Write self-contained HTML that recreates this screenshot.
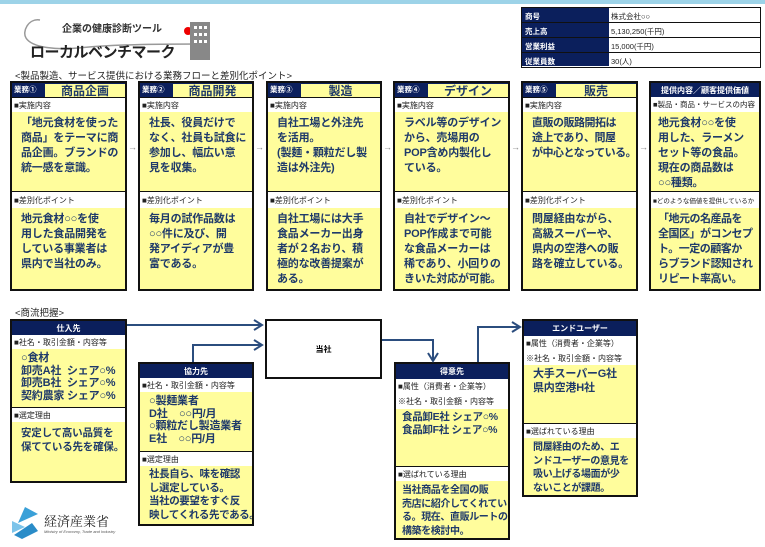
<!DOCTYPE html>
<html><head><meta charset="utf-8">
<style>
*{margin:0;padding:0;box-sizing:border-box}
body{width:765px;height:547px;background:#fff;position:relative;overflow:hidden;font-family:"Liberation Sans","Noto Sans CJK JP",sans-serif;color:#000}
.a{position:absolute}
.card{position:absolute;border:2px solid #111;background:#fffd9c;overflow:hidden}
.hd{position:absolute;left:0;right:0;top:0;background:#0b1f5c;color:#fff;font-size:8px;font-weight:bold;display:flex;align-items:center;justify-content:center;white-space:nowrap}
.lb{position:absolute;left:0;right:0;background:#fff;font-size:8px;color:#222;padding-left:2px;display:flex;align-items:center;border-top:1.5px solid #111;white-space:nowrap;overflow:hidden}
.lb.nb{border-top:none}
.tx{position:absolute;left:0;right:0;color:#1f3a6a;font-weight:bold;font-size:11px;line-height:15px;padding-left:9px;white-space:nowrap;letter-spacing:-0.2px}
.tag{position:absolute;left:0;top:0;width:33px;height:14px;background:#0b1f5c;color:#fff;font-size:7.5px;font-weight:bold;padding-left:2px;line-height:14px}
.ttl{position:absolute;left:33px;right:0;top:0;height:14px;background:#fffd9c;color:#1f3a6a;font-weight:bold;font-size:12px;line-height:14px;text-align:center;border-top:1px solid #0b1f5c}
.arr{position:absolute;color:#888;font-size:9px}
</style></head><body>
<div class="a" style="left:0;top:0;width:765px;height:4px;background:#9dd3e8"></div>

<!-- logo -->
<svg class="a" style="left:18px;top:14px" width="200" height="50">
<path d="M22 6 C10 4,4 18,8 24 C14 34,40 36,60 34 C100 30,150 30,185 30" fill="none" stroke="#999" stroke-width="1.5"/>
<circle cx="170" cy="17" r="4" fill="#e00"/>
<rect x="172" y="8" width="20" height="38" fill="#888"/>
<rect x="176" y="12" width="3" height="3" fill="#fff"/><rect x="181" y="12" width="3" height="3" fill="#fff"/><rect x="186" y="12" width="3" height="3" fill="#fff"/>
<rect x="176" y="19" width="3" height="3" fill="#fff"/><rect x="181" y="19" width="3" height="3" fill="#fff"/><rect x="186" y="19" width="3" height="3" fill="#fff"/>
<rect x="176" y="26" width="3" height="3" fill="#fff"/><rect x="181" y="26" width="3" height="3" fill="#fff"/><rect x="186" y="26" width="3" height="3" fill="#fff"/>
</svg>
<div class="a" style="left:62px;top:20px;font-size:10px;font-weight:bold;color:#333">企業の健康診断ツール</div>
<div class="a" style="left:30px;top:41px;font-size:15px;font-weight:bold;color:#222;letter-spacing:-0.5px">ローカルベンチマーク</div>

<!-- info table -->
<div class="a" style="left:521px;top:7px;width:240px;height:61px;border:1.5px solid #111;background:#fff;overflow:hidden">
<div class="a" style="left:0;top:0;width:87px;height:58px;background:#0b1f5c"></div>
<div class="a" style="left:3px;top:1px;font-size:7.5px;color:#fff;font-weight:bold;line-height:15px">商号<br>売上高<br>営業利益<br>従業員数</div>
<div class="a" style="left:0;top:14px;width:238px;height:1px;background:#111"></div>
<div class="a" style="left:0;top:29px;width:238px;height:1px;background:#111"></div>
<div class="a" style="left:0;top:44px;width:238px;height:1px;background:#111"></div>
<div class="a" style="left:89px;top:1px;font-size:7.5px;color:#222;line-height:15px">株式会社○○<br>5,130,250(千円)<br>15,000(千円)<br>30(人)</div>
</div>

<div class="a" style="left:15px;top:68px;font-size:9.5px;color:#222">&lt;製品製造、サービス提供における業務フローと差別化ポイント&gt;</div>

<!-- cards -->
<div class="card" style="left:10px;top:81px;width:117px;height:210px">
<div class="tag">業務①</div><div class="ttl">商品企画</div>
<div class="lb" style="top:14px;height:15px">■実施内容</div>
<div class="tx" style="top:33px">「地元食材を使った<br>商品」をテーマに商<br>品企画。ブランドの<br>統一感を意識。</div>
<div class="lb" style="top:108px;height:17px">■差別化ポイント</div>
<div class="tx" style="top:129px">地元食材○○を使<br>用した食品開発を<br>している事業者は<br>県内で当社のみ。</div>
</div>
<div class="arr" style="left:128px;top:142px">→</div>

<div class="card" style="left:138px;top:81px;width:116px;height:210px">
<div class="tag">業務②</div><div class="ttl">商品開発</div>
<div class="lb" style="top:14px;height:15px">■実施内容</div>
<div class="tx" style="top:33px">社長、役員だけで<br>なく、社員も試食に<br>参加し、幅広い意<br>見を収集。</div>
<div class="lb" style="top:108px;height:17px">■差別化ポイント</div>
<div class="tx" style="top:129px">毎月の試作品数は<br>○○件に及び、開<br>発アイディアが豊<br>富である。</div>
</div>
<div class="arr" style="left:255px;top:142px">→</div>

<div class="card" style="left:266px;top:81px;width:116px;height:210px">
<div class="tag">業務③</div><div class="ttl">製造</div>
<div class="lb" style="top:14px;height:15px">■実施内容</div>
<div class="tx" style="top:33px">自社工場と外注先<br>を活用。<br>(製麺・顆粒だし製<br>造は外注先)</div>
<div class="lb" style="top:108px;height:17px">■差別化ポイント</div>
<div class="tx" style="top:129px">自社工場には大手<br>食品メーカー出身<br>者が２名おり、積<br>極的な改善提案が<br>ある。</div>
</div>
<div class="arr" style="left:383px;top:142px">→</div>

<div class="card" style="left:393px;top:81px;width:117px;height:210px">
<div class="tag">業務④</div><div class="ttl">デザイン</div>
<div class="lb" style="top:14px;height:15px">■実施内容</div>
<div class="tx" style="top:33px">ラベル等のデザイン<br>から、売場用の<br>POP含め内製化し<br>ている。</div>
<div class="lb" style="top:108px;height:17px">■差別化ポイント</div>
<div class="tx" style="top:129px">自社でデザイン～<br>POP作成まで可能<br>な食品メーカーは<br>稀であり、小回りの<br>きいた対応が可能。</div>
</div>
<div class="arr" style="left:511px;top:142px">→</div>

<div class="card" style="left:521px;top:81px;width:117px;height:210px">
<div class="tag">業務⑤</div><div class="ttl">販売</div>
<div class="lb" style="top:14px;height:15px">■実施内容</div>
<div class="tx" style="top:33px;letter-spacing:-0.5px">直販の販路開拓は<br>途上であり、問屋<br>が中心となっている。</div>
<div class="lb" style="top:108px;height:17px">■差別化ポイント</div>
<div class="tx" style="top:129px">問屋経由ながら、<br>高級スーパーや、<br>県内の空港への販<br>路を確立している。</div>
</div>
<div class="arr" style="left:639px;top:142px">→</div>

<div class="card" style="left:649px;top:81px;width:112px;height:210px">
<div class="hd" style="height:14px">提供内容／顧客提供価値</div>
<div class="lb nb" style="top:14px;height:15px;font-size:7.5px">■製品・商品・サービスの内容</div>
<div class="tx" style="top:33px;padding-left:7px">地元食材○○を使<br>用した、ラーメン<br>セット等の食品。<br>現在の商品数は<br>○○種類。</div>
<div class="lb" style="top:108px;height:17px;font-size:6.5px">■どのような価値を提供しているか</div>
<div class="tx" style="top:129px;padding-left:7px;letter-spacing:-0.5px">「地元の名産品を<br>全国区」がコンセプ<br>ト。一定の顧客か<br>らブランド認知され<br>リピート率高い。</div>
</div>

<!-- 商流 -->
<div class="a" style="left:15px;top:305px;font-size:9.5px;color:#222">&lt;商流把握&gt;</div>

<div class="card" style="left:10px;top:319px;width:117px;height:164px">
<div class="hd" style="height:14px">仕入先</div>
<div class="lb nb" style="top:14px;height:14px">■社名・取引金額・内容等</div>
<div class="tx" style="top:31px;line-height:12.5px;font-size:11px">○食材<br>卸売A社&nbsp; シェア○%<br>卸売B社&nbsp; シェア○%<br>契約農家 シェア○%</div>
<div class="lb" style="top:86px;height:15px">■選定理由</div>
<div class="tx" style="top:105px;line-height:14px;font-size:10.5px">安定して高い品質を<br>保てている先を確保。</div>
</div>

<div class="card" style="left:138px;top:362px;width:116px;height:164px">
<div class="hd" style="height:14px">協力先</div>
<div class="lb nb" style="top:14px;height:14px">■社名・取引金額・内容等</div>
<div class="tx" style="top:31px;line-height:12.5px;font-size:11px">○製麺業者<br>D社&nbsp;&nbsp;&nbsp; ○○円/月<br>○顆粒だし製造業者<br>E社&nbsp;&nbsp;&nbsp; ○○円/月</div>
<div class="lb" style="top:87px;height:15px">■選定理由</div>
<div class="tx" style="top:104px;line-height:13.5px;font-size:10.5px;letter-spacing:-0.4px">社長自ら、味を確認<br>し選定している。<br>当社の要望をすぐ反<br>映してくれる先である。</div>
</div>

<div class="a" style="left:265px;top:319px;width:117px;height:60px;border:2px solid #111;background:#fff;font-size:8px;font-weight:bold;display:flex;align-items:center;justify-content:center">当社</div>

<div class="card" style="left:394px;top:362px;width:116px;height:178px">
<div class="hd" style="height:15px">得意先</div>
<div class="lb nb" style="top:15px;height:15px">■属性（消費者・企業等）</div>
<div class="lb nb" style="top:30px;height:15px">※社名・取引金額・内容等</div>
<div class="tx" style="top:47px;padding-left:6px;line-height:13px;font-size:10.5px;letter-spacing:-0.3px">食品卸E社 シェア○%<br>食品卸F社 シェア○%</div>
<div class="lb" style="top:102px;height:15px">■選ばれている理由</div>
<div class="tx" style="top:120px;padding-left:6px;line-height:13.5px;font-size:10px;letter-spacing:-0.4px">当社商品を全国の販<br>売店に紹介してくれてい<br>る。現在、直販ルートの<br>構築を検討中。</div>
</div>

<div class="card" style="left:522px;top:319px;width:116px;height:178px">
<div class="hd" style="height:15px">エンドユーザー</div>
<div class="lb nb" style="top:15px;height:15px">■属性（消費者・企業等）</div>
<div class="lb nb" style="top:30px;height:14px">※社名・取引金額・内容等</div>
<div class="tx" style="top:46px;line-height:14px;font-size:11px">大手スーパーG社<br>県内空港H社</div>
<div class="lb" style="top:102px;height:15px">■選ばれている理由</div>
<div class="tx" style="top:120px;line-height:13.5px;font-size:10px;letter-spacing:-0.4px">問屋経由のため、エ<br>ンドユーザーの意見を<br>吸い上げる場面が少<br>ないことが課題。</div>
</div>

<!-- connectors -->
<svg class="a" style="left:0;top:0" width="765" height="547">
<g fill="none" stroke="#2b4d7e" stroke-width="2">
<path d="M127 325 H262"/><path d="M254 320 L262 325 L254 330"/>
<path d="M193 362 V345 H262"/><path d="M254 340 L262 345 L254 350"/>
<path d="M382 340 H433 V361"/><path d="M428 353 L433 361 L438 353"/>
<path d="M478 362 V327 H520"/><path d="M512 322 L520 327 L512 332"/>
</g>
</svg>

<!-- METI logo -->
<svg class="a" style="left:10px;top:505px" width="30" height="36">
<path d="M15 2 L28 9 L8 18 Z" fill="#3aa0d8"/>
<path d="M2 16 L15 22 L2 28 Z" fill="#7cc4ea"/>
<path d="M22 18 L28 26 L12 34 L4 30 Z" fill="#2a8cc8"/>
</svg>
<div class="a" style="left:44px;top:511px;font-size:13px;color:#222;font-family:'Noto Serif CJK SC','Liberation Serif',serif">経済産業省</div>
<div class="a" style="left:44px;top:529px;font-size:4px;color:#555;font-style:italic">Ministry of Economy, Trade and Industry</div>
</body></html>
